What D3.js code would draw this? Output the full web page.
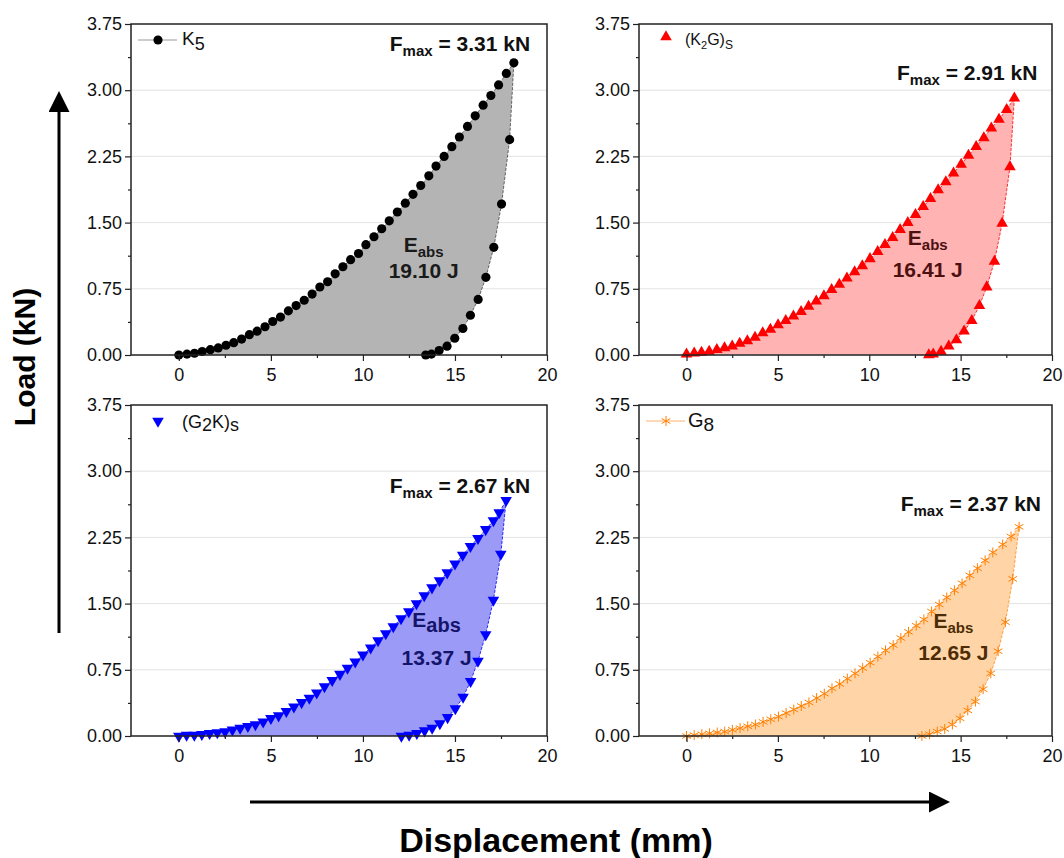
<!DOCTYPE html>
<html>
<head>
<meta charset="utf-8">
<script src="https://cdnjs.cloudflare.com/ajax/libs/d3/7.8.5/d3.min.js"></script>
<style>
    body { margin: 0; background: #fff; }
    svg { font-family: Arial, "Liberation Sans", sans-serif; }
</style>
</head>
<body>
<div id="chart"></div>
<script>
// Load-displacement loops, [displacement (mm), load (kN)]
const k5Loading = [[0,0],[0.44,0.01],[0.85,0.02],[1.27,0.04],[1.71,0.06],[2.14,0.08],[2.56,0.11],[2.98,0.14],
    [3.41,0.18],[3.83,0.23],[4.25,0.27],[4.68,0.32],[5.10,0.38],[5.52,0.43],[5.95,0.50],[6.37,0.56],[6.81,0.62],
    [7.24,0.69],[7.66,0.77],[8.08,0.83],[8.49,0.92],[8.91,1.00],[9.33,1.08],[9.76,1.15],[10.16,1.25],[10.60,1.34],
    [11.02,1.43],[11.43,1.52],[11.87,1.62],[12.30,1.72],[12.72,1.82],[13.14,1.92],[13.58,2.03],[13.97,2.14],
    [14.41,2.25],[14.83,2.36],[15.24,2.47],[15.68,2.59],[16.10,2.71],[16.53,2.83],[16.95,2.94],[17.37,3.06],
    [17.79,3.19],[18.20,3.31]]
const k5Unloading = [[17.97,2.44],[17.53,1.71],[17.11,1.22],[16.68,0.88],[16.26,0.63],[15.84,0.45],[15.43,0.30],
    [14.99,0.19],[14.57,0.10],[14.14,0.05],[13.72,0.01],[13.41,0]]

const k2gLoading = [[0,0.01],[0.42,0.02],[0.82,0.03],[1.24,0.04],[1.66,0.06],[2.08,0.08],[2.50,0.10],[2.91,0.13],
    [3.33,0.16],[3.75,0.20],[4.17,0.25],[4.59,0.29],[5.01,0.34],[5.43,0.39],[5.85,0.44],[6.27,0.49],[6.68,0.55],
    [7.10,0.61],[7.52,0.67],[7.94,0.74],[8.36,0.80],[8.78,0.87],[9.20,0.94],[9.62,1.01],[10.04,1.09],[10.46,1.17],
    [10.86,1.25],[11.28,1.33],[11.69,1.42],[12.11,1.50],[12.53,1.59],[12.95,1.68],[13.35,1.77],[13.77,1.87],
    [14.19,1.96],[14.61,2.06],[15.03,2.16],[15.43,2.26],[15.85,2.36],[16.27,2.46],[16.68,2.57],[17.10,2.67],
    [17.52,2.78],[17.94,2.91]]
const k2gUnloading = [[17.70,2.13],[17.27,1.49],[16.85,1.06],[16.43,0.77],[16.03,0.56],[15.61,0.39],[15.19,0.27],
    [14.77,0.17],[14.35,0.10],[13.93,0.04],[13.50,0.01],[13.26,0]]

const g2kLoading = [[0,0],[0.42,0.01],[0.84,0.01],[1.25,0.02],[1.67,0.03],[2.09,0.04],[2.51,0.05],[2.91,0.07],
    [3.33,0.09],[3.75,0.11],[4.16,0.13],[4.58,0.16],[5.00,0.20],[5.42,0.23],[5.84,0.28],[6.25,0.33],[6.67,0.38],
    [7.09,0.43],[7.49,0.49],[7.91,0.56],[8.33,0.63],[8.75,0.70],[9.16,0.77],[9.58,0.84],[10.00,0.92],[10.42,1.00],
    [10.82,1.08],[11.24,1.16],[11.65,1.24],[12.07,1.33],[12.49,1.41],[12.91,1.50],[13.33,1.59],[13.75,1.68],
    [14.16,1.76],[14.58,1.85],[15.00,1.95],[15.42,2.05],[15.84,2.15],[16.25,2.24],[16.67,2.34],[17.09,2.44],
    [17.40,2.53],[17.78,2.67]]
const g2kUnloading = [[17.49,2.06],[17.09,1.54],[16.67,1.15],[16.25,0.85],[15.85,0.62],[15.44,0.44],[15.02,0.31],
    [14.60,0.21],[14.18,0.14],[13.76,0.09],[13.35,0.06],[12.93,0.03],[12.51,0.01],[12.09,0]]

const g8Loading = [[0,0],[0.42,0.01],[0.84,0.02],[1.26,0.03],[1.68,0.04],[2.09,0.05],[2.51,0.07],[2.93,0.09],
    [3.35,0.11],[3.77,0.13],[4.19,0.16],[4.61,0.19],[5.03,0.22],[5.45,0.26],[5.87,0.30],[6.28,0.34],[6.70,0.38],
    [7.12,0.43],[7.54,0.48],[7.96,0.54],[8.38,0.59],[8.80,0.65],[9.22,0.71],[9.64,0.77],[10.05,0.83],[10.47,0.90],
    [10.89,0.97],[11.31,1.03],[11.73,1.11],[12.15,1.18],[12.57,1.25],[12.99,1.32],[13.41,1.41],[13.83,1.49],
    [14.24,1.57],[14.66,1.65],[15.08,1.73],[15.50,1.82],[15.92,1.90],[16.34,1.99],[16.76,2.08],[17.30,2.17],
    [17.76,2.26],[18.20,2.37]]
const g8Unloading = [[17.85,1.78],[17.45,1.29],[17.05,0.96],[16.65,0.71],[16.23,0.53],[15.81,0.39],[15.39,0.29],
    [14.97,0.20],[14.55,0.13],[14.13,0.08],[13.72,0.05],[13.30,0.02],[12.88,0]]

const sampleNames = ["K5", "(K2G)s", "(G2K)s", "G8"]
const fmaxValues = [3.31, 2.91, 2.67, 2.37]
const eabsValues = [19.10, 16.41, 13.37, 12.65]
const xTicks = [0, 5, 10, 15, 20]
const xMinorTicks = [2.5, 7.5, 12.5, 17.5]
const yTicks = [0, 0.75, 1.5, 2.25, 3, 3.75]
const yMinorTicks = [0.375, 1.125, 1.875, 2.625, 3.375]

const WIDTH = 1064, HEIGHT = 858
const PH = 331

class LoopPanel {
    constructor(svg, opts) {
        this.svg = svg
        this.opts = opts
    }

    initVis() {
        let vis = this
        let o = vis.opts
        let PW = o.width

        vis.g = vis.svg.append("g")
            .attr("transform", `translate(${o.left},${o.top})`)

        vis.x = d3.scaleLinear().domain([-2.6, 20]).range([0, PW])
        vis.y = d3.scaleLinear().domain([0, 3.75]).range([PH, 0])

        // light horizontal gridlines
        vis.g.append("g").selectAll("line")
            .data(yTicks.slice(1, -1))
            .join("line")
            .attr("x1", 0).attr("x2", PW)
            .attr("y1", d => vis.y(d)).attr("y2", d => vis.y(d))
            .attr("stroke", "#e3e3e3")
            .attr("stroke-width", 1)

        // shaded loop = loading curve followed by unloading curve
        let loop = o.loading.concat(o.unloading)
        let line = d3.line().x(d => vis.x(d[0])).y(d => vis.y(d[1]))
        vis.g.append("path")
            .attr("d", line(loop) + "Z")
            .attr("fill", o.fill)
            .attr("stroke", "none")
        vis.g.append("path")
            .attr("d", line(loop))
            .attr("fill", "none")
            .attr("stroke", o.lineColor)
            .attr("stroke-width", 0.8)
            .attr("stroke-dasharray", "3,1.5")

        // markers
        let sym = d3.symbol().type(o.symbol).size(o.symbolSize)
        vis.g.append("g").selectAll("path")
            .data(loop)
            .join("path")
            .attr("transform", d => `translate(${vis.x(d[0])},${vis.y(d[1])}) rotate(${o.rotate || 0})`)
            .attr("d", sym)
            .attr("fill", o.stroked ? "none" : o.color)
            .attr("stroke", o.stroked ? o.color : "none")
            .attr("stroke-width", 1)

        // axes
        let xAxis = vis.g.append("g")
            .attr("transform", `translate(0,${PH})`)
            .call(d3.axisBottom(vis.x).tickValues(xTicks).tickSize(6).tickPadding(7).tickSizeOuter(0))
        let xMinor = vis.g.append("g")
            .attr("transform", `translate(0,${PH})`)
            .call(d3.axisBottom(vis.x).tickValues(xMinorTicks).tickSize(3).tickFormat("").tickSizeOuter(0))
        let yAxis = vis.g.append("g")
            .call(d3.axisLeft(vis.y).tickValues(yTicks).tickSize(6).tickPadding(3)
                .tickFormat(d3.format(".2f")).tickSizeOuter(0))
        let yMinor = vis.g.append("g")
            .call(d3.axisLeft(vis.y).tickValues(yMinorTicks).tickSize(3).tickFormat("").tickSizeOuter(0))

        ;[xAxis, xMinor, yAxis, yMinor].forEach(a => {
            a.select(".domain").remove()
            a.selectAll("line").attr("stroke", "#222").attr("stroke-width", 1.2)
            a.selectAll("text").attr("font-size", "18px").attr("fill", "#111")
                .attr("font-family", "Arial, 'Liberation Sans', sans-serif")
        })

        // frame
        vis.g.append("rect")
            .attr("width", PW).attr("height", PH)
            .attr("fill", "none")
            .attr("stroke", "#222")
            .attr("stroke-width", 1.5)

        vis.drawLegend()
        vis.drawLabels()
    }

    drawLegend() {
        let vis = this
        let o = vis.opts
        let lg = vis.g.append("g").attr("transform", `translate(0,${o.legendY})`)
        if (o.legendLine) {
            lg.append("line")
                .attr("x1", 7).attr("x2", 46).attr("y1", 0).attr("y2", 0)
                .attr("stroke", o.legendLine).attr("stroke-width", 1)
        }
        lg.append("path")
            .attr("transform", `translate(27,0) rotate(${o.rotate || 0})`)
            .attr("d", d3.symbol().type(o.symbol).size(o.symbolSize))
            .attr("fill", o.stroked ? "none" : o.color)
            .attr("stroke", o.stroked ? o.color : "none")
        let t = lg.append("text")
            .attr("x", o.legendTextX).attr("y", o.legendBase)
            .attr("font-size", o.legendSize + "px")
            .attr("fill", "#111")
        o.legendParts.forEach(p => {
            t.append("tspan")
                .attr("dy", p.dy || 0)
                .attr("font-size", p.size ? p.size + "px" : null)
                .text(p.t)
        })
    }

    drawLabels() {
        let vis = this
        let o = vis.opts
        let f = vis.g.append("text")
            .attr("x", vis.x(o.fmaxPos[0])).attr("y", vis.y(o.fmaxPos[1]))
            .attr("text-anchor", "end")
            .attr("font-size", "21px").attr("font-weight", "bold")
            .attr("fill", "#111")
        f.append("tspan").text("F")
        f.append("tspan").attr("font-size", "15px").attr("dy", 5).text("max")
        f.append("tspan").attr("dy", -5).text(" = " + o.fmax.toFixed(2) + " kN")

        let e = vis.g.append("text")
            .attr("x", vis.x(o.eabsPos[0])).attr("y", vis.y(o.eabsPos[1]))
            .attr("text-anchor", "middle")
            .attr("font-size", "21px").attr("font-weight", "bold")
            .attr("fill", o.textColor)
        e.append("tspan").text("E")
        e.append("tspan").attr("font-size", o.absSize + "px").attr("dy", 5).text("abs")
        vis.g.append("text")
            .attr("x", vis.x(o.eabsPos[0])).attr("y", vis.y(o.eabsPos[1]) + o.eGap)
            .attr("text-anchor", "middle")
            .attr("font-size", "21px").attr("font-weight", "bold")
            .attr("fill", o.textColor)
            .text(o.eabs.toFixed(2) + " J")
    }
}

let svg = d3.select("#chart").append("svg")
    .attr("width", WIDTH).attr("height", HEIGHT)

let panels = [
    {left: 131, top: 24, width: 416, loading: k5Loading, unloading: k5Unloading,
        color: "#000", fill: "#b4b4b4", lineColor: "#444", symbol: d3.symbolCircle, symbolSize: 66,
        legendY: 16, legendLine: "#999", legendTextX: 51, legendBase: 5, legendSize: 19,
        legendParts: [{t: "K"}, {t: "5", dy: 5, size: 18}],
        fmax: fmaxValues[0], eabs: eabsValues[0], fmaxPos: [19.08, 3.44], eabsPos: [13.3, 1.17],
        eGap: 26, absSize: 15, textColor: "#1a1a1a"},
    {left: 639, top: 24, width: 413, loading: k2gLoading, unloading: k2gUnloading,
        color: "#ff0000", fill: "#ffb3b3", lineColor: "#ff0000", symbol: d3.symbolTriangle, symbolSize: 58,
        legendY: 13, legendLine: null, legendTextX: 46, legendBase: 8, legendSize: 16,
        legendParts: [{t: "(K"}, {t: "2", dy: 4, size: 11}, {t: "G)", dy: -4}, {t: "S", dy: 4, size: 12}],
        fmax: fmaxValues[1], eabs: eabsValues[1], fmaxPos: [19.2, 3.12], eabsPos: [13.2, 1.25],
        eGap: 32, absSize: 15, textColor: "#4d1010"},
    {left: 131, top: 405, width: 416, loading: g2kLoading, unloading: g2kUnloading,
        color: "#0000ff", fill: "#9b9bf7", lineColor: "#0000ff", symbol: d3.symbolTriangle, symbolSize: 58,
        rotate: 180, legendY: 16, legendLine: null, legendTextX: 51, legendBase: 7, legendSize: 18,
        legendParts: [{t: "(G"}, {t: "2", dy: 3}, {t: "K)", dy: -3}, {t: "s", dy: 3}],
        fmax: fmaxValues[2], eabs: eabsValues[2], fmaxPos: [19.08, 2.75], eabsPos: [14.0, 1.24],
        eGap: 38, absSize: 20, textColor: "#14146b"},
    {left: 639, top: 405, width: 413, loading: g8Loading, unloading: g8Unloading,
        color: "#ff7f00", fill: "#ffd5a8", lineColor: "#ff8c1a", symbol: d3.symbolAsterisk, symbolSize: 70,
        stroked: true, legendY: 16, legendLine: "#ffb070", legendTextX: 49, legendBase: 6, legendSize: 20,
        legendParts: [{t: "G"}, {t: "8", dy: 4, size: 19}],
        fmax: fmaxValues[3], eabs: eabsValues[3], fmaxPos: [19.4, 2.55], eabsPos: [14.6, 1.22],
        eGap: 32, absSize: 15, textColor: "#4d2c05"}
]

panels.forEach(p => new LoopPanel(svg, p).initVis())

// big axis titles with arrows
svg.append("defs").append("marker")
    .attr("id", "head")
    .attr("viewBox", "0 0 10 10")
    .attr("refX", 0).attr("refY", 5)
    .attr("markerWidth", 8).attr("markerHeight", 7)
    .attr("markerUnits", "strokeWidth")
    .attr("orient", "auto")
    .append("path").attr("d", "M0,0L10,5L0,10Z").attr("fill", "#000")

svg.append("line")
    .attr("x1", 59).attr("x2", 59).attr("y1", 633).attr("y2", 112)
    .attr("stroke", "#000").attr("stroke-width", 3)
    .attr("marker-end", "url(#head)")
svg.append("line")
    .attr("x1", 250).attr("x2", 929).attr("y1", 802).attr("y2", 802)
    .attr("stroke", "#000").attr("stroke-width", 3)
    .attr("marker-end", "url(#head)")

svg.append("text")
    .attr("transform", "translate(35,357) rotate(-90)")
    .attr("text-anchor", "middle")
    .attr("font-size", "30px").attr("font-weight", "bold")
    .text("Load (kN)")
svg.append("text")
    .attr("x", 556).attr("y", 852)
    .attr("text-anchor", "middle")
    .attr("font-size", "34px").attr("font-weight", "bold")
    .text("Displacement (mm)")
</script>
</body>
</html>
